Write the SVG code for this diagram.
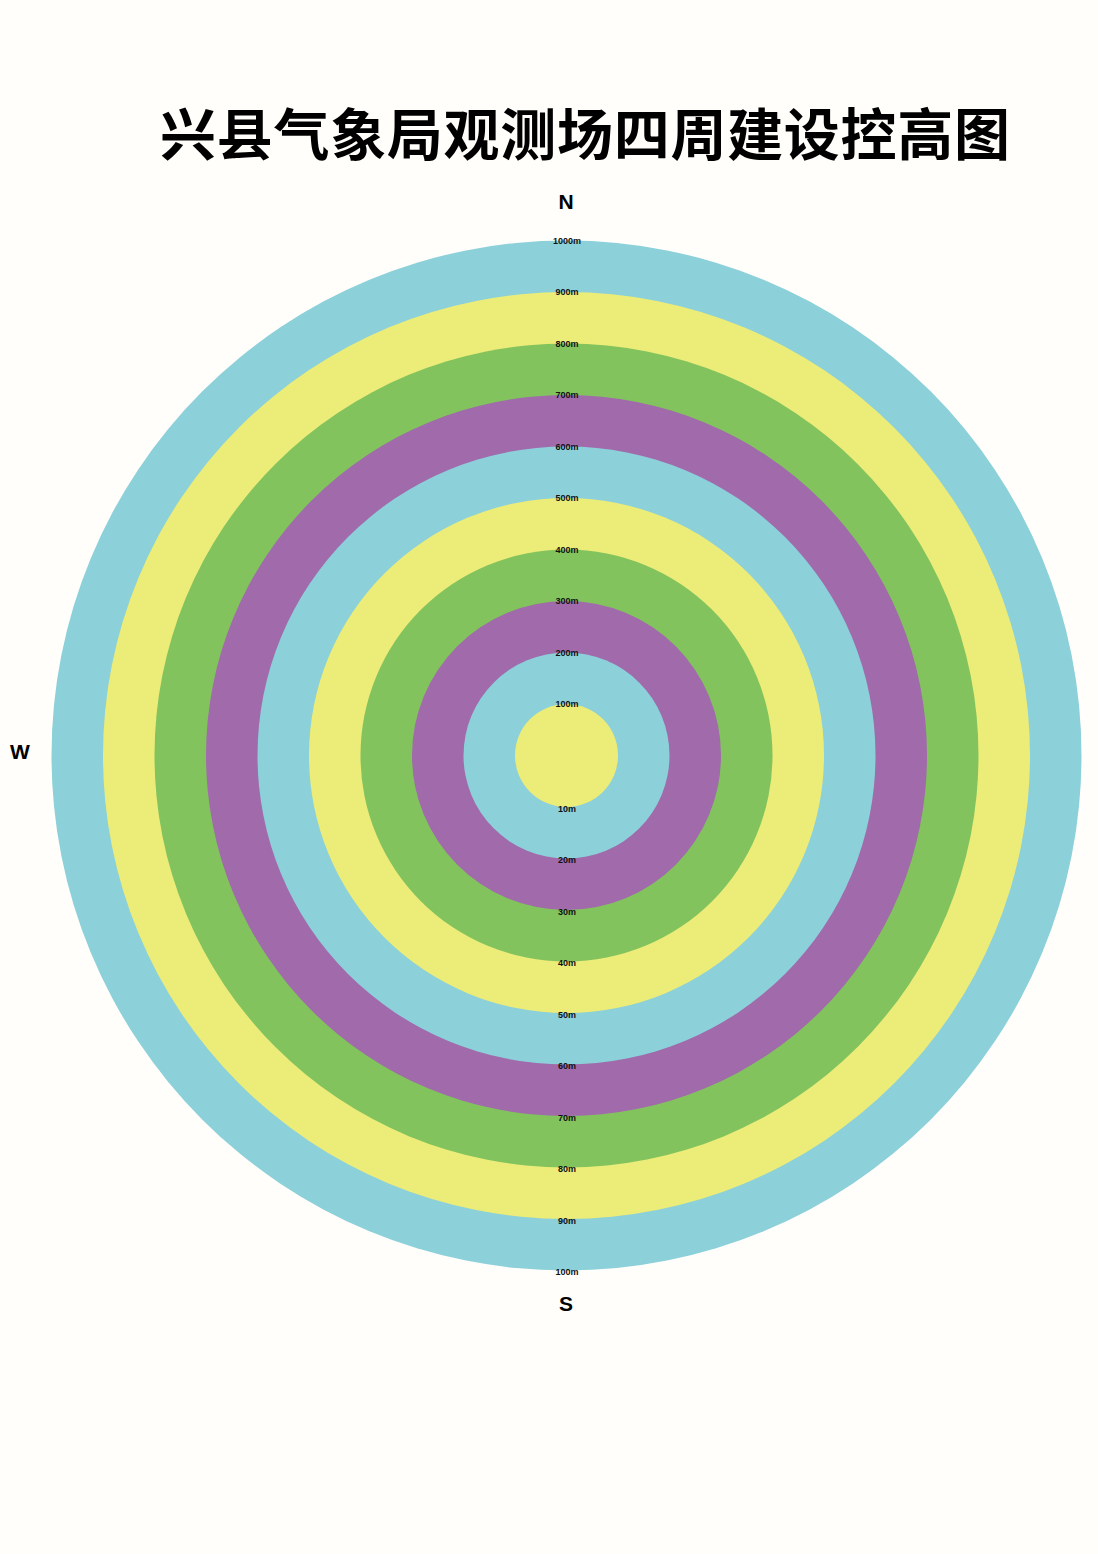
<svg xmlns="http://www.w3.org/2000/svg" width="1098" height="1554" viewBox="0 0 1098 1554">
<style>
.c{fill:#8CD0D9}.y{fill:#ECEC78}.g{fill:#82C35E}.p{fill:#A06AAB}
.lb{font-family:"Liberation Sans",Arial,sans-serif;font-size:9px;font-weight:bold;fill:#111;text-anchor:middle}
.dir{font-family:"Liberation Sans",Arial,sans-serif;font-size:21px;font-weight:bold;fill:#000;text-anchor:middle}
.title{font-family:"Noto Sans CJK SC","Noto Sans CJK TC",sans-serif;font-size:56px;font-weight:bold;fill:#000}
</style>
<rect width="1098" height="1554" fill="#FFFEFB"/>
<text class="title" x="160" y="155" textLength="850" lengthAdjust="spacing">兴县气象局观测场四周建设控高图</text>
<g id="rings">
<circle class="c" cx="566.5" cy="755.5" r="515"/>
<circle class="y" cx="566.5" cy="755.5" r="463.5"/>
<circle class="g" cx="566.5" cy="755.5" r="412"/>
<circle class="p" cx="566.5" cy="755.5" r="360.5"/>
<circle class="c" cx="566.5" cy="755.5" r="309"/>
<circle class="y" cx="566.5" cy="755.5" r="257.5"/>
<circle class="g" cx="566.5" cy="755.5" r="206"/>
<circle class="p" cx="566.5" cy="755.5" r="154.5"/>
<circle class="c" cx="566.5" cy="755.5" r="103"/>
<circle class="y" cx="566.5" cy="755.5" r="51.5"/>
</g>
<g id="labels-top">
<text class="lb" x="567" y="243.5">1000m</text>
<text class="lb" x="567" y="295">900m</text>
<text class="lb" x="567" y="346.5">800m</text>
<text class="lb" x="567" y="398">700m</text>
<text class="lb" x="567" y="449.5">600m</text>
<text class="lb" x="567" y="501">500m</text>
<text class="lb" x="567" y="552.5">400m</text>
<text class="lb" x="567" y="604">300m</text>
<text class="lb" x="567" y="655.5">200m</text>
<text class="lb" x="567" y="707">100m</text>
</g>
<g id="labels-bottom">
<text class="lb" x="567" y="811.5">10m</text>
<text class="lb" x="567" y="863">20m</text>
<text class="lb" x="567" y="914.5">30m</text>
<text class="lb" x="567" y="966">40m</text>
<text class="lb" x="567" y="1017.5">50m</text>
<text class="lb" x="567" y="1069">60m</text>
<text class="lb" x="567" y="1120.5">70m</text>
<text class="lb" x="567" y="1172">80m</text>
<text class="lb" x="567" y="1223.5">90m</text>
<text class="lb" x="567" y="1275">100m</text>
</g>
<g id="compass">
<text class="dir" x="566" y="209">N</text>
<text class="dir" x="566" y="1311">S</text>
<text class="dir" x="20" y="759">W</text>
</g>
</svg>
